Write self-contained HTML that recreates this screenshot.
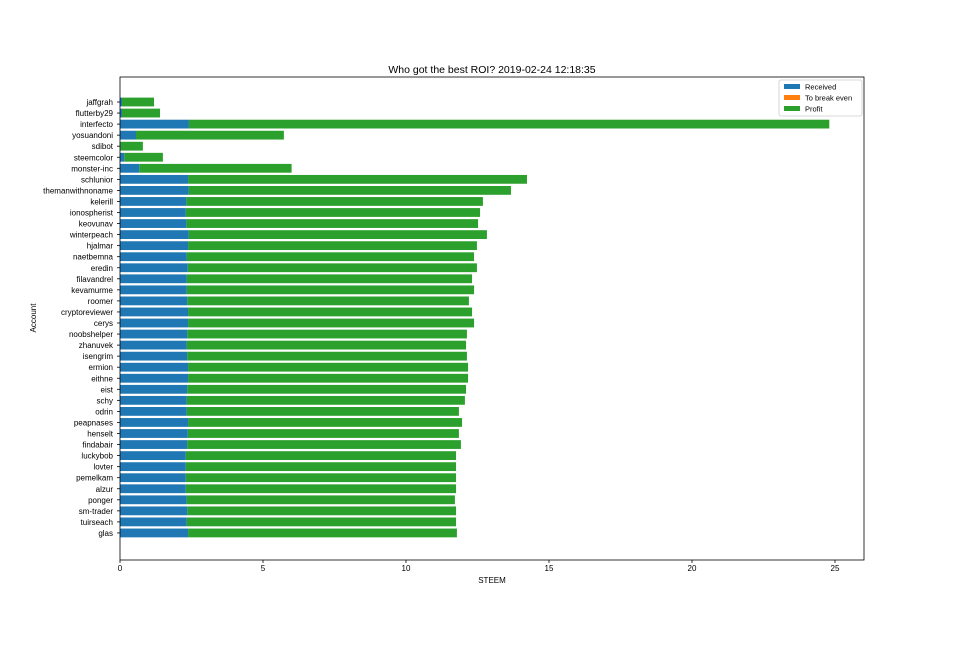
<!DOCTYPE html>
<html><head><meta charset="utf-8"><style>
body{margin:0;background:#fff;font-family:"Liberation Sans","DejaVu Sans",sans-serif}
</style></head><body>
<svg id="chart" width="960" height="640" xmlns="http://www.w3.org/2000/svg" font-family="Liberation Sans, DejaVu Sans, sans-serif">
<rect width="960" height="640" fill="#fff"/>
<text x="492" y="73" font-size="10.5" text-anchor="middle">Who got the best ROI? 2019-02-24 12:18:35</text>
<g id="plot"></g>
<rect x="120" y="77" width="744" height="483" fill="none" stroke="#000" stroke-width="0.8"/>
<text x="492" y="583" font-size="8" text-anchor="middle">STEEM</text>
<text transform="translate(36,318) rotate(-90)" font-size="8" text-anchor="middle">Account</text>
<g>
<rect x="779" y="80" width="83" height="36" fill="#fff" stroke="#ccc" stroke-width="0.8" rx="2"/>
<rect x="784" y="84" width="16" height="5" fill="#1f77b4"/><text x="805" y="89.5" font-size="7.5">Received</text>
<rect x="784" y="95" width="16" height="5" fill="#ff7f0e"/><text x="805" y="100.5" font-size="7.5">To break even</text>
<rect x="784" y="106" width="16" height="5" fill="#2ca02c"/><text x="805" y="111.5" font-size="7.5">Profit</text>
</g>
</svg>
<script>
const accounts=["jaffgrah","flutterby29","interfecto","yosuandoni","sdibot","steemcolor","monster-inc","schlunior","themanwithnoname","kelerill","ionospherist","keovunav","winterpeach","hjalmar","naetbemna","eredin","filavandrel","kevamurme","roomer","cryptoreviewer","cerys","noobshelper","zhanuvek","isengrim","ermion","eithne","eist","schy","odrin","peapnases","henselt","findabair","luckybob","lovter","pemelkam","alzur","ponger","sm-trader","tuirseach","glas"];
const received=[0.07,0.07,2.41,0.56,0.02,0.15,0.67,2.38,2.4,2.32,2.3,2.32,2.4,2.38,2.33,2.37,2.33,2.33,2.35,2.38,2.38,2.35,2.33,2.35,2.38,2.38,2.35,2.33,2.33,2.38,2.37,2.35,2.3,2.3,2.3,2.3,2.33,2.35,2.33,2.38];
const totals=[1.19,1.4,24.8,5.73,0.8,1.5,6.0,14.23,13.67,12.69,12.59,12.52,12.83,12.48,12.38,12.48,12.31,12.38,12.2,12.31,12.38,12.13,12.1,12.13,12.17,12.17,12.1,12.06,11.85,11.96,11.85,11.92,11.75,11.75,11.75,11.75,11.71,11.75,11.75,11.78];
const xTicks=[0,5,10,15,20,25];
const x=v=>120+v*28.6;
const y=i=>102+i*11.05;
const ns="http://www.w3.org/2000/svg";
const g=document.getElementById('plot');
function mk(t,a){const e=document.createElementNS(ns,t);for(const k in a)e.setAttribute(k,a[k]);g.appendChild(e);return e;}
const bh=8.8;
accounts.forEach((name,i)=>{
  const p=mk('rect',{x:x(received[i]),y:y(i)-bh/2,width:Math.max(0,x(totals[i])-x(received[i])),height:bh,fill:'#2ca02c'});
  
  
  const r=mk('rect',{x:x(0),y:y(i)-bh/2,width:x(received[i])-x(0),height:bh,fill:'#1f77b4'});
  
  
  const t=mk('text',{x:113,y:y(i)+3,'font-size':8,'text-anchor':'end'});
  t.textContent=name;
  
  
  mk('line',{x1:117,x2:120,y1:y(i),y2:y(i),stroke:'#000','stroke-width':0.8});
});
xTicks.forEach(v=>{
  mk('line',{x1:x(v),x2:x(v),y1:560,y2:563,stroke:'#000','stroke-width':0.8});
  const t=mk('text',{x:x(v),y:571,'font-size':8,'text-anchor':'middle'});
  t.textContent=v;
  
  
});
</script>
</body></html>
